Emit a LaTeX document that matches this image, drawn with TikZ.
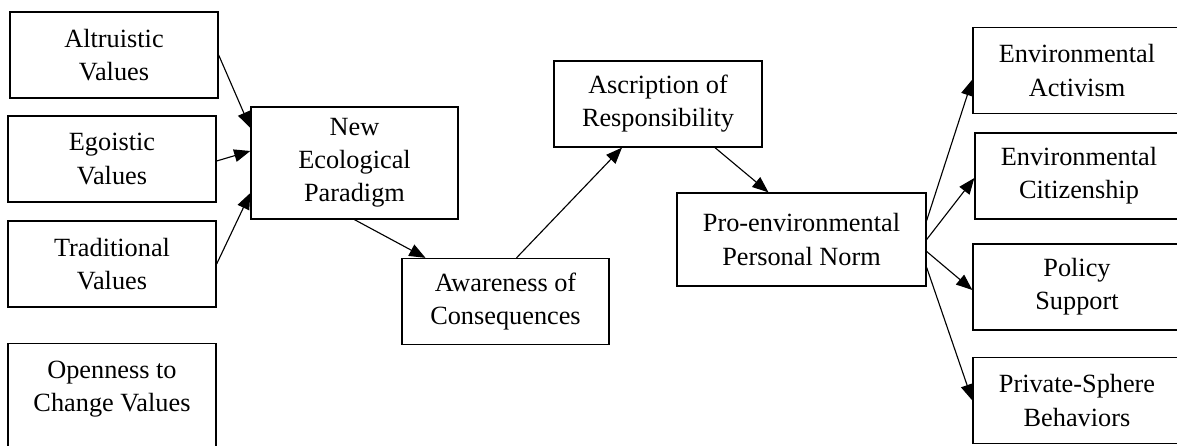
\documentclass[tikz,border=0pt]{standalone}
\usepackage{fontspec}
\setmainfont{Liberation Serif}
\usetikzlibrary{arrows.meta, calc}

\begin{document}
\begin{tikzpicture}[x=0.025cm, y=-0.025cm, >={Triangle[length=11.5pt, width=9pt]},
    box/.style={draw, line width=0.9pt, minimum width=5.2cm, minimum height=2.15cm,
      inner sep=2pt, align=center, font=\fontsize{18.7}{23.5}\selectfont},
    link/.style={->, line width=0.8pt}]
  % page frame (boxes at the edges run off it)
  \clip (0,0) rectangle (1177,446);

  % Value orientations
  \node[box] (altru) at (114,55) {Altruistic\\Values};
  \node[box] (ego) at (112,159) {Egoistic\\Values};
  \node[box] (trad) at (112,264) {Traditional\\Values};
  \node[box, anchor=north, inner ysep=12.5pt] (open) at (112,343) {Openness to\\Change Values\\\mbox{}};

  % Beliefs and norm chain
  \node[box, minimum width=5.175cm, minimum height=2.8cm] (nep) at (354.5,163) {New\\Ecological\\Paradigm};
  \node[box, minimum width=5.175cm] (aware) at (505.5,301.5) {Awareness of\\Consequences};
  \node[box] (ascr) at (658,104) {Ascription of\\Responsibility};
  \node[box, minimum width=6.225cm, minimum height=2.325cm] (norm) at (801.5,239.5) {Pro-environmental\\Personal Norm};

  % Behaviours
  \node[box] (activ) at (1077,70.5) {Environmental\\Activism};
  \node[box] (citiz) at (1079,176) {Environmental\\Citizenship};
  \node[box] (policy) at (1077,287) {Policy\\Support};
  \node[box] (priv) at (1077,400.5) {Private-Sphere\\Behaviors};

  % Values into NEP
  \draw[link] (altru.east) -- ($(nep.west)+(0,-35)$);
  \draw[link] ($(ego.east)+(0,2)$) -- ($(nep.west)+(0,-12)$);
  \draw[link] (trad.east) -- ($(nep.west)+(0,30)$);

  % NEP -> AC -> AR -> PN
  \draw[link] (nep.south) -- ($(aware.north)+(-80,0)$);
  \draw[link] ($(aware.north)+(11,0)$) -- ($(ascr.south)+(-36,0)$);
  \draw[link] ($(ascr.south)+(57,0)$) -- ($(norm.north)+(-33,0)$);

  % Norm into behaviours
  \draw[link] ($(norm.east)+(0,-19)$) -- ($(activ.west)+(0,9)$);
  \draw[link] (norm.east) -- ($(citiz.west)+(0,2)$);
  \draw[link] ($(norm.east)+(0,12)$) -- ($(policy.west)+(0,3)$);
  \draw[link] ($(norm.east)+(0,28)$) -- (priv.west);
\end{tikzpicture}
\end{document}
